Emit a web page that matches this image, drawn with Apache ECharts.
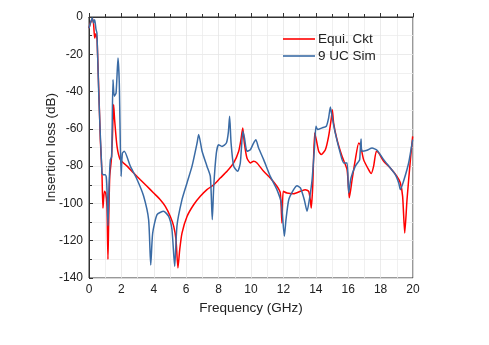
<!DOCTYPE html>
<html>
<head>
<meta charset="utf-8">
<script src="https://cdn.jsdelivr.net/npm/echarts@6/dist/echarts.min.js"></script>
<style>
  html, body { margin: 0; padding: 0; background: #fff; }
  #chart { width: 489px; height: 345px; }
</style>
</head>
<body>
<div id="chart"></div>
<script>
// 9 UC Sim (blue) - frequency in GHz, insertion loss in dB
var simFreq = [0, 0.1, 0.2, 0.28, 0.35, 0.43, 0.49, 0.6, 0.8, 0.88, 1.0, 1.07, 1.12, 1.17, 1.24, 1.32, 1.4, 1.48, 1.56, 1.67, 1.79, 1.87, 1.98, 2.06, 2.18, 2.55, 2.96, 3.37, 3.68, 3.81, 3.93, 4.2, 4.6, 4.92, 5.12, 5.29, 5.43, 5.74, 6.05, 6.36, 6.67, 6.77, 6.98, 7.28, 7.49, 7.61, 7.7, 7.86, 8.0, 8.21, 8.48, 8.6, 8.68, 8.77, 8.93, 9.18, 9.34, 9.5, 9.6, 9.75, 9.96, 10.16, 10.3, 10.47, 10.78, 11.19, 11.6, 11.87, 12.06, 12.16, 12.33, 12.63, 12.84, 13.05, 13.29, 13.46, 13.62, 13.77, 13.91, 14.01, 14.12, 14.38, 14.65, 14.79, 14.9, 15.0, 15.2, 15.51, 15.72, 15.93, 16.03, 16.17, 16.44, 16.65, 16.71, 16.79, 16.85, 17.16, 17.47, 17.78, 18.19, 18.6, 18.91, 19.12, 19.22, 19.42, 19.73, 19.98];
var simLoss = [-6, -3, -0.5, -3.2, -1.5, -6.5, -8.6, -40.8, -83.7, -84.6, -84.6, -86, -95, -112, -90, -76.5, -75, -33.6, -42.5, -40.8, -22, -35.4, -85.5, -73, -72, -80, -87, -96, -108.7, -133, -116, -106, -104.2, -107, -114, -133.7, -112, -98, -89, -80, -67.6, -63, -72, -80, -85.5, -108.7, -90.8, -73, -68.5, -69.4, -67.6, -62, -53.3, -67.6, -80, -82.8, -78.3, -61.3, -65, -72, -71.2, -67.6, -65.8, -70.3, -76.5, -85.5, -92.6, -99.8, -117.6, -108.7, -98, -92.6, -90.5, -91.7, -98, -104.2, -97, -87.3, -71.2, -58.6, -60.4, -59.5, -58.6, -54.2, -48.3, -53.3, -62.2, -73, -78.3, -78.3, -94.4, -86.4, -80, -77.4, -76.5, -65.5, -72, -71.5, -70.3, -71.5, -76.5, -81, -84.6, -89, -92.6, -88, -78.3, -65.8];

// Equivalent circuit (red)
var cktFreq = [0, 0.1, 0.2, 0.28, 0.35, 0.42, 0.5, 0.7, 0.8, 0.86, 0.95, 1.03, 1.11, 1.17, 1.21, 1.28, 1.38, 1.44, 1.52, 1.58, 1.73, 1.93, 2.35, 2.76, 3.17, 3.58, 3.99, 4.4, 4.71, 5.02, 5.23, 5.37, 5.49, 5.6, 5.74, 6.05, 6.46, 6.87, 7.28, 7.7, 8.1, 8.52, 8.93, 9.24, 9.38, 9.49, 9.59, 9.75, 9.96, 10.16, 10.37, 10.78, 11.19, 11.6, 11.81, 11.91, 11.99, 12.22, 12.63, 13.05, 13.35, 13.56, 13.66, 13.72, 13.81, 13.93, 14.03, 14.18, 14.34, 14.59, 14.79, 14.96, 15.02, 15.1, 15.31, 15.62, 15.93, 16.07, 16.24, 16.44, 16.65, 16.75, 16.95, 17.26, 17.42, 17.57, 17.74, 17.88, 18.19, 18.6, 19.01, 19.22, 19.36, 19.49, 19.63, 19.84, 19.98];
var cktLoss = [-6, -3, -1, -3.5, -11.3, -9, -12, -65.8, -83.7, -102.5, -93.5, -94.4, -101.6, -130, -112, -85.5, -76.5, -65.8, -47, -55, -69.4, -76.5, -80, -83.7, -87.3, -90.8, -94.4, -98, -101.6, -107, -112.3, -119.4, -134.6, -124.8, -115.9, -107, -100.7, -96.2, -92.6, -90, -86.4, -82.8, -78.3, -72, -65.8, -59.5, -67.6, -75.6, -78.3, -77.4, -78.3, -82.8, -86.4, -90.8, -94.4, -110.5, -93.5, -94.4, -94.8, -93.5, -92.6, -93.5, -98, -102.5, -90.8, -62.2, -65.8, -72, -73.8, -71.2, -64, -54.2, -49.7, -56.9, -65.8, -74.7, -81.9, -97, -87.3, -76.5, -67.6, -68.5, -76.5, -81.9, -84, -80, -72, -72.9, -77.4, -81, -85.5, -89, -96.2, -115.9, -98, -76.5, -64];

function pairs(xs, ys) {
  return xs.map(function (x, i) { return [x, ys[i]]; });
}

var myChart = echarts.init(document.getElementById('chart'));
var labelFont = { color: '#222', fontSize: 12, fontFamily: 'Liberation Sans, Arial, sans-serif' };
var nameFont = { color: '#222', fontSize: 13.5, fontFamily: 'Liberation Sans, Arial, sans-serif' };

var option = {
  animation: false,
  grid: {
    left: 89, right: 76, top: 17, bottom: 67,
    show: true, borderColor: '#333', borderWidth: 1
  },
  legend: {
    left: 278, top: 27,
    orient: 'vertical',
    icon: 'rect',
    itemWidth: 32, itemHeight: 1.6, itemGap: 3,
    textStyle: { color: '#222', fontSize: 13.5, fontFamily: 'Liberation Sans, Arial, sans-serif', padding: [0, 0, 0, -2] },
    data: ['Equi. Ckt', '9 UC Sim']
  },
  xAxis: {
    type: 'value', min: 0, max: 20, interval: 2,
    name: 'Frequency (GHz)', nameLocation: 'middle', nameGap: 21,
    nameTextStyle: nameFont,
    axisLine: { lineStyle: { color: '#333' } },
    axisTick: { inside: true, length: 4, lineStyle: { color: '#333' } },
    minorTick: { show: true, splitNumber: 2, length: 3, lineStyle: { color: '#333' } },
    axisLabel: Object.assign({ margin: 6 }, labelFont),
    splitLine: { show: true, lineStyle: { color: '#e6e6e6', width: 0.8 } },
    minorSplitLine: { show: true, lineStyle: { color: '#ececec', width: 0.8 } }
  },
  yAxis: {
    type: 'value', min: -140, max: 0, interval: 20,
    name: 'Insertion loss (dB)', nameLocation: 'middle', nameGap: 31,
    nameMoveOverlap: false,
    nameTextStyle: nameFont,
    axisLine: { lineStyle: { color: '#333' } },
    axisTick: { inside: true, length: 4, lineStyle: { color: '#333' } },
    minorTick: { show: true, splitNumber: 2, length: 3, lineStyle: { color: '#333' } },
    axisLabel: Object.assign({ margin: 6 }, labelFont),
    splitLine: { show: true, lineStyle: { color: '#e6e6e6', width: 0.8 } },
    minorSplitLine: { show: true, lineStyle: { color: '#ececec', width: 0.8 } }
  },
  series: [
    {
      name: 'Equi. Ckt', type: 'line', symbol: 'none', smooth: 0.2, z: 2,
      lineStyle: { color: '#ff0000', width: 1.5 },
      itemStyle: { color: '#ff0000' },
      data: pairs(cktFreq, cktLoss)
    },
    {
      name: '9 UC Sim', type: 'line', symbol: 'none', smooth: 0.2, z: 3,
      lineStyle: { color: '#3a6ba5', width: 1.5 },
      itemStyle: { color: '#3a6ba5' },
      data: pairs(simFreq, simLoss)
    }
  ]
};
myChart.setOption(option);
</script>
</body>
</html>
